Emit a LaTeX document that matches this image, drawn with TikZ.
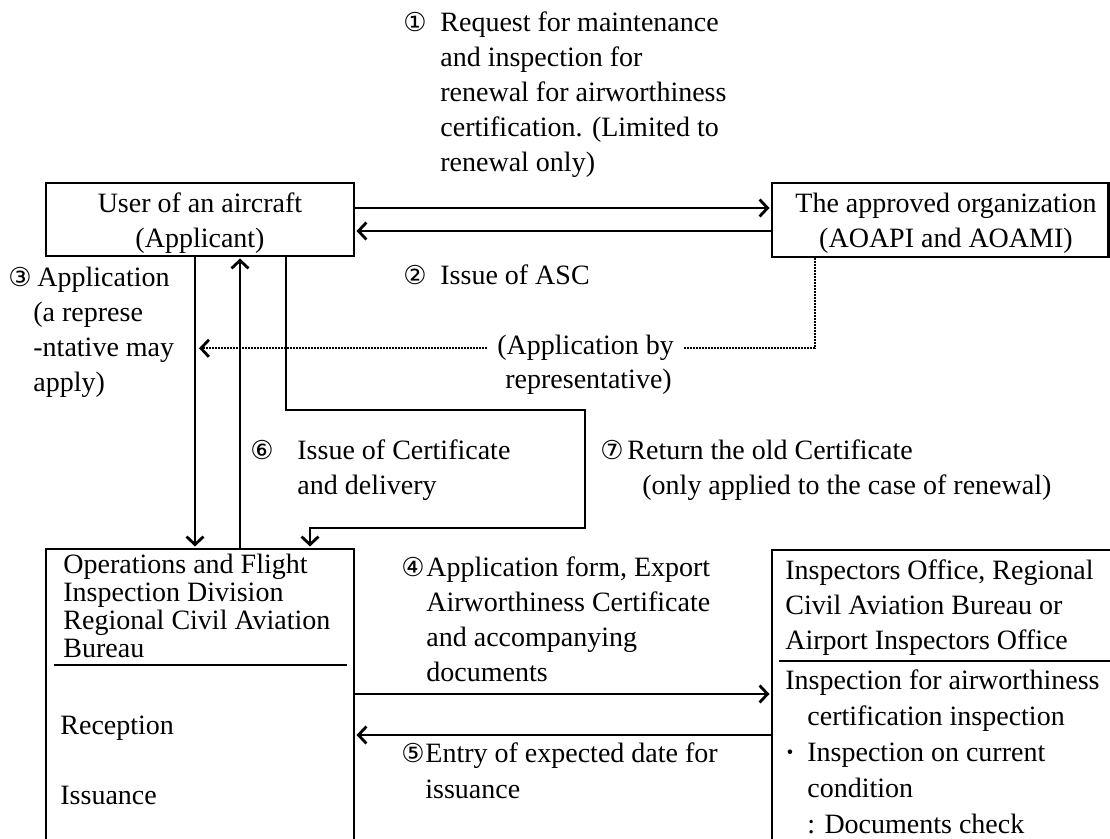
\documentclass[tikz,border=0pt]{standalone}
\usepackage{fontspec}
\setmainfont{Liberation Serif}
\newfontfamily\circfont{DejaVu Sans}
\usetikzlibrary{arrows.meta}

% body text size and the circled step numbers
\newcommand\mainsz{\fontsize{14}{17.5}\selectfont}
\newcommand\circnum[2]{\makebox[#2][l]{\fontsize{13}{10}\circfont #1}}
\newcommand\ind[1]{\hspace*{#1}}

\begin{document}
\begin{tikzpicture}[x=0.5pt,y=-0.5pt,font=\mainsz,
  box/.style={draw,line width=1.3pt,inner sep=0pt},
  txt/.style={inner sep=0pt,anchor=base west},
  ctxt/.style={inner sep=0pt,anchor=base},
  tipshape/.style={-{Straight Barb[length=4pt,width=8.5pt,line width=1.4pt]}},
  conn/.style={line width=1.3pt,tipshape,shorten >=0.6pt},
  rule/.style={line width=1pt},
  dots/.style={line width=1.1pt,dash pattern=on 0.9pt off 0.6pt}]

\path[use as bounding box,fill=white] (0,0) rectangle (1110,839);
\clip (0,0) rectangle (1110,839);

% ---- boxes ----
\node[box,minimum width=154pt,minimum height=36.5pt] (user) at (200,219.5) {};
\node[box,minimum width=168.25pt,minimum height=37pt] (org) at (940.25,220) {};
\node[box,minimum width=154pt,minimum height=175.5pt] (ops) at (200,724.5) {};
\node[box,minimum width=174pt,minimum height=175pt] (insp) at (946,725) {};

% ---- box contents ----
\node[ctxt] (usertxt) at (200,213)
  {\begin{tabular}[t]{@{}c@{}}User of an aircraft\\(Applicant)\end{tabular}};
\node[ctxt] (orgtxt) at (946,213)
  {\begin{tabular}[t]{@{}c@{}}The approved organization\\(AOAPI and AOAMI)\end{tabular}};

\node[txt] (ophead) at (63,574)
  {\fontsize{14}{14}\selectfont\begin{tabular}[t]{@{}l@{}}Operations and Flight\\Inspection Division\\Regional Civil Aviation\\Bureau\end{tabular}};
\draw[rule] ([shift={(4.5pt,-58.5pt)}]ops.north west) -- ([shift={(-4pt,-58.5pt)}]ops.north east);
\node[txt] (oprec) at (60,735) {Reception};
\node[txt] (opiss) at (60,805) {Issuance};

\node[txt] (insphead) at (785,580)
  {\begin{tabular}[t]{@{}l@{}}Inspectors Office, Regional\\Civil Aviation Bureau or\\Airport Inspectors Office\end{tabular}};
\draw[rule] ([shift={(4pt,-56pt)}]insp.north west) -- ([yshift=-56pt]insp.north east);
\node[txt] (inspbody) at (785,690)
  {\fontsize{14}{17.9}\selectfont\begin{tabular}[t]{@{}l@{}}Inspection for airworthiness\\
   \ind{11pt}certification inspection\\
   \makebox[11pt][l]{\textbf{\textperiodcentered}}Inspection on current\\
   \ind{11pt}condition\\
   \ind{11pt}: Documents check\end{tabular}};

% ---- step labels ----
\node[txt] (lab1) at (403,32)
  {\begin{tabular}[t]{@{}l@{}}\circnum{①}{18.5pt}Request for maintenance\\
   \ind{18.5pt}and inspection for\\
   \ind{18.5pt}renewal for airworthiness\\
   \ind{18.5pt}certification. (Limited to\\
   \ind{18.5pt}renewal only)\end{tabular}};
\node[txt] (lab2) at (403,285) {\circnum{②}{18.5pt}Issue of ASC};
\node[txt] (lab3) at (8,287)
  {\begin{tabular}[t]{@{}l@{}}\circnum{③}{14.5pt}Application\\
   \ind{12.5pt}(a represe\\
   \ind{12.5pt}-ntative may\\
   \ind{12.5pt}apply)\end{tabular}};
\node[txt,inner xsep=5pt] (rep1) at (487,355) {(Application by};
\node[txt] (rep2) at (505,389) {representative)};
\node[txt] (lab6) at (250,460)
  {\begin{tabular}[t]{@{}l@{}}\circnum{⑥}{23.5pt}Issue of Certificate\\
   \ind{23.5pt}and delivery\end{tabular}};
\node[txt] (lab7) at (600,460)
  {\begin{tabular}[t]{@{}l@{}}\circnum{⑦}{13.5pt}Return the old Certificate\\
   \ind{21pt}(only applied to the case of renewal)\end{tabular}};
\node[txt] (lab4) at (401,577)
  {\begin{tabular}[t]{@{}l@{}}\circnum{④}{12.5pt}Application form, Export\\
   \ind{12.5pt}Airworthiness Certificate\\
   \ind{12.5pt}and accompanying\\
   \ind{12.5pt}documents\end{tabular}};
\node[txt] (lab5) at (401,763)
  {\begin{tabular}[t]{@{}l@{}}\circnum{⑤}{12pt}Entry of expected date for\\
   \ind{12pt}issuance\end{tabular}};

% ---- connectors ----
\coordinate (u1) at ([yshift=5.75pt]user.east);
\draw[conn] (u1) -- (u1 -| org.west);
\coordinate (o2) at ([yshift=-5.5pt]org.west);
\draw[conn] (o2) -- (o2 -| user.east);

\coordinate (a1) at ([xshift=-2.5pt]user.south);
\draw[conn] (a1) -- (a1 |- ops.north);
\coordinate (b1) at ([xshift=20pt]ops.north);
\draw[conn] (b1) -- (b1 |- user.south);

\coordinate (c0) at ([xshift=43pt]user.south);
\coordinate (c1) at (585,410);
\coordinate (c2) at (585,528);
\coordinate (c3) at ([xshift=55pt]ops.north);
\draw[conn] (c0) |- (c1) -- (c2) -| (c3);

\coordinate (d0) at ([xshift=-62.5pt]org.south);
\coordinate (reptip) at (rep1.west -| 199,0);
\draw[dots] (d0) |- (rep1.east);
\draw[dots,tipshape] (rep1.west) -- (reptip);

\coordinate (f1) at ([yshift=15.25pt]ops.east);
\draw[conn] (f1) -- (f1 -| insp.west);
\coordinate (g1) at ([yshift=-5pt]insp.west);
\draw[conn] (g1) -- (g1 -| ops.east);
\end{tikzpicture}
\end{document}
